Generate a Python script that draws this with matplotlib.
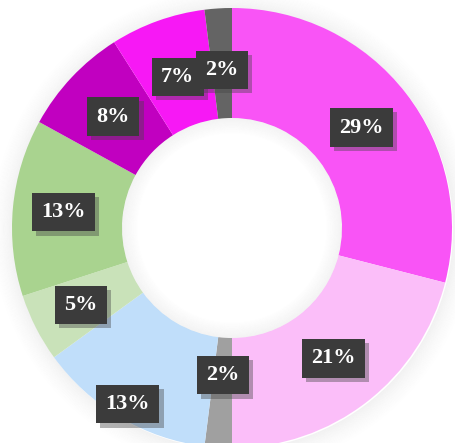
import numpy as np
import matplotlib.pyplot as plt
import matplotlib.patheffects as pe
from matplotlib.patches import Wedge

# slice shares, clockwise from 12 o'clock
shares = [29, 21, 2, 13, 5, 13, 8, 7, 2]
labels = ["29%", "21%", "2%", "13%", "5%", "13%", "8%", "7%", "2%"]
colors = ["#F954F6", "#FBBEF9", "#A0A0A0", "#C0DEFA", "#C9E2B9",
          "#A9D38F", "#C100C0", "#F718F5", "#646464"]

fig = plt.figure(figsize=(4.55, 4.43), dpi=100)
ax = fig.add_axes([0, 0, 1, 1])

# soft shadow around the ring
n = 20
for i in range(n):
    r = 1.0 + 0.005 * (i + 1)
    ax.add_patch(Wedge((0.005, -0.005), r, 0, 360, width=0.005,
                       color="#707070", alpha=0.09 * (1 - i / n) ** 1.5, lw=0, zorder=1))

wedges, _ = ax.pie(shares, colors=colors, startangle=90, counterclock=False,
                   radius=1.0, wedgeprops=dict(width=0.5, linewidth=0))
for w in wedges:
    w.set_zorder(2)

# inner shadow of the hole
for i in range(14):
    r = 0.5 - 0.005 * i
    ax.add_patch(Wedge((0, 0), r, 0, 360, width=0.005,
                       color="#909090", alpha=0.10 * (1 - i / 14), lw=0, zorder=3))

# label radii (a couple nudged like the original)
label_r = [0.745, 0.75, 0.67, 0.93, 0.77, 0.77, 0.74, 0.73, 0.72]
shadow = [pe.withSimplePatchShadow(offset=(3, -3), shadow_rgbFace="#444444", alpha=0.4)]
for w, lab, r in zip(wedges, labels, label_r):
    ang = np.deg2rad((w.theta1 + w.theta2) / 2)
    t = ax.text(r * np.cos(ang), r * np.sin(ang), lab, ha="center", va="center",
                fontsize=16, fontweight="bold", family="Liberation Serif",
                color="white", zorder=5,
                bbox=dict(boxstyle="square,pad=0.42", fc="#3B3B3B", ec="none"))
    t.get_bbox_patch().set_path_effects(shadow)

# center at (232, 228) px, outer radius 220 px
ax.set_xlim(-232 / 220, (455 - 232) / 220)
ax.set_ylim(-(443 - 228) / 220, 228 / 220)
ax.set_aspect("auto")
ax.axis("off")

fig.savefig("out.png", dpi=100, facecolor="white")
